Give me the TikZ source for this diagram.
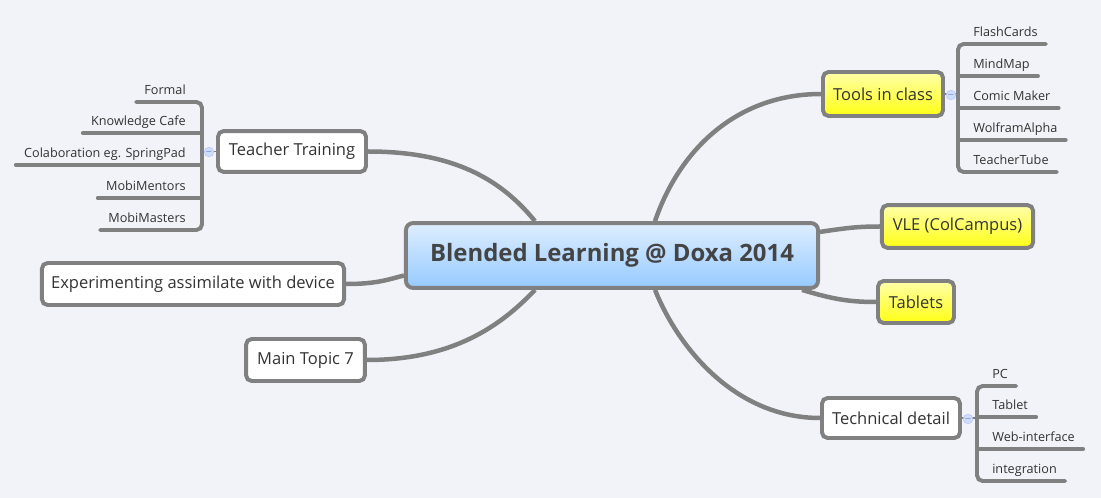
\documentclass[tikz,border=0pt]{standalone}
\usepackage{fontspec}
\setmainfont{Open Sans}
\usetikzlibrary{backgrounds,calc}
\definecolor{cpaper}{RGB}{242,243,249}
\definecolor{cline}{RGB}{128,128,128}
\definecolor{ctext}{RGB}{51,51,51}
\definecolor{ccentre}{RGB}{68,68,68}
\definecolor{cbluetop}{RGB}{222,238,255}
\definecolor{cbluebot}{RGB}{150,202,255}
\definecolor{cyeltop}{RGB}{255,255,170}
\definecolor{cyelbot}{RGB}{255,255,20}
\definecolor{ctoggle}{RGB}{205,222,250}

\begin{document}
\begin{tikzpicture}[x=0.025cm,y=-0.025cm,line cap=round,
  topic/.style={draw=cline,line width=2.8pt,rounded corners=4pt,fill=white,
    text=ctext,font=\fontsize{11.75}{13}\selectfont,inner sep=0pt},
  marked/.style={topic,top color=cyeltop,bottom color=cyelbot},
  centre/.style={draw=cline,line width=2.8pt,rounded corners=5pt,top color=cbluetop,
    bottom color=cbluebot,text=ccentre,font=\fontsize{17}{20}\selectfont\bfseries,inner sep=0pt},
  leaf/.style={text=ctext,font=\fontsize{9}{10}\selectfont,inner xsep=0.2cm,inner ysep=0.1cm,
    text height=0.25cm,text depth=0.08cm},
  branch/.style={draw=cline,line width=3.2pt},
  leafline/.style={draw=cline,line width=2.8pt},
  toggle/.style={circle,draw=ctoggle!70!blue!60,fill=ctoggle,line width=0.4pt,inner sep=0pt,
    minimum size=0.2cm,font=\fontsize{5}{5}\selectfont,text=blue!40!gray}]
% ---------- central topic ----------
\node[centre,minimum width=10.3cm,minimum height=1.62cm] (blc) at (612,255.5){Blended Learning @ Doxa 2014};
% ---------- main topics ----------
\node[topic,minimum width=3.7cm,minimum height=1.02cm] (train) at (292,151.5){Teacher Training};
\node[topic,minimum width=7.55cm,minimum height=1.05cm] (exper) at (193,284){Experimenting assimilate with device};
\node[topic,minimum width=2.97cm,minimum height=1.05cm] (topic7) at (305.5,360){Main Topic 7};
\node[marked,minimum width=3.0cm,minimum height=1.1cm] (tools) at (883,94){Tools in class};
\node[marked,minimum width=3.78cm,minimum height=1.07cm] (vle) at (957.5,226.5){VLE (ColCampus)};
\node[marked,minimum width=1.9cm,minimum height=1.05cm] (tablets) at (916,302){Tablets};
\node[topic,minimum width=3.45cm,minimum height=1.0cm] (tech) at (891,418){Technical detail};
% ---------- teacher training leaves ----------
\coordinate (tbar) at (202,166);
\node[leaf,anchor=south east] (formal) at (194,102){Formal};
\node[leaf,anchor=south east] (cafe) at (194,133){Knowledge Cafe};
\node[leaf,anchor=south east] (colab) at (194,165){Colaboration eg. SpringPad};
\node[leaf,anchor=south east] (mentors) at (194,198){MobiMentors};
\node[leaf,anchor=south east] (masters) at (194,230){MobiMasters};
\draw[leafline,rounded corners=4pt] (formal.south west) -- (formal.south west -| tbar) -- (masters.south west -| tbar) -- (masters.south west);
\foreach \n in {cafe,colab,mentors}
  \draw[leafline] (\n.south west) -- (\n.south west -| tbar);
\draw[cline,line width=0.8pt] (train.west) -- (train.west -| tbar);
\node[toggle] (ttog) at (209,152){$-$};
% ---------- tools in class leaves ----------
\coordinate (cbar) at (958,100);
\node[leaf,anchor=south west] (flash) at (965,44){FlashCards};
\node[leaf,anchor=south west] (mind) at (965,76){MindMap};
\node[leaf,anchor=south west] (comic) at (965,108){Comic Maker};
\node[leaf,anchor=south west] (wolfram) at (965,140){WolframAlpha};
\node[leaf,anchor=south west] (ttube) at (965,172){TeacherTube};
\draw[leafline,rounded corners=4pt] (flash.south east) -- (flash.south east -| cbar) -- (ttube.south east -| cbar) -- (ttube.south east);
\foreach \n in {mind,comic,wolfram}
  \draw[leafline] (\n.south east) -- (\n.south east -| cbar);
\draw[cline,line width=0.8pt] (tools.east) -- (tools.east -| cbar);
\node[toggle] (ctog) at (951,95){$-$};
% ---------- technical detail leaves ----------
\coordinate (dbar) at (977,420);
\node[leaf,anchor=south west] (pc) at (984,386){PC};
\node[leaf,anchor=south west] (tablet) at (984,417){Tablet};
\node[leaf,anchor=south west] (web) at (984,449){Web-interface};
\node[leaf,anchor=south west] (integ) at (984,481){integration};
\draw[leafline,rounded corners=4pt] (pc.south east) -- (pc.south east -| dbar) -- (integ.south east -| dbar) -- (integ.south east);
\foreach \n in {tablet,web}
  \draw[leafline] (\n.south east) -- (\n.south east -| dbar);
\draw[cline,line width=0.8pt] (tech.east) -- (tech.east -| dbar);
\node[toggle] (dtog) at (968,419){$-$};
% ---------- branches (behind the topics) ----------
\begin{scope}[on background layer]
  \fill[cpaper] (0,0) rectangle (1101,498);
  \draw[branch] (train.east) .. controls +(84,0) and +(-35,-43) .. ([xshift=-1.925cm]blc.north);
  \draw[branch] (exper.east) .. controls +(31,0) and +(-16,4) .. ([yshift=-0.5cm]blc.west);
  \draw[branch] (topic7.east) .. controls +(85,0) and +(-35,37) .. ([xshift=-1.925cm]blc.south);
  \draw[branch] ([xshift=1.075cm]blc.north) .. controls +(25,-73) and +(-83,0) .. (tools.west);
  \draw[branch] ([yshift=0.59cm]blc.east) .. controls +(27,-4) and +(-22,0) .. (vle.west);
  \draw[branch] ([xshift=-0.45cm]blc.south east) .. controls +(30,9) and +(-28,0) .. (tablets.west);
  \draw[branch] ([xshift=1.075cm]blc.south) .. controls +(25,62) and +(-82,0) .. (tech.west);
\end{scope}
\end{tikzpicture}
\end{document}
